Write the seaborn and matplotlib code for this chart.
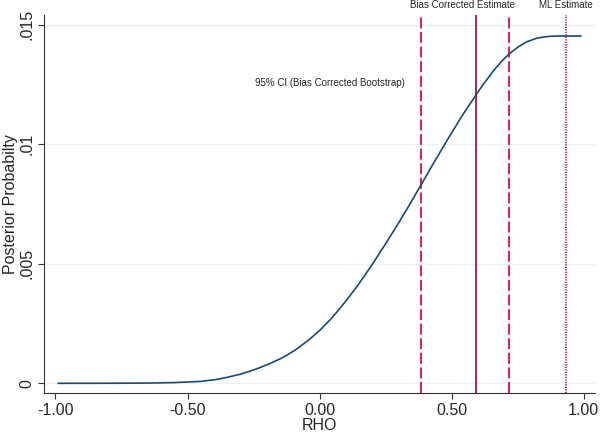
# Import necessary libraries
import numpy as np
import pandas as pd
import matplotlib
matplotlib.use('Agg')
import matplotlib.pyplot as plt
import seaborn as sns

# Posterior curve
rho = [-0.99, -0.80, -0.65, -0.55, -0.45, -0.39, -0.35, -0.30, -0.26, -0.225,
       -0.19, -0.15, -0.12, -0.086, -0.04, 0.0, 0.04, 0.07, 0.10, 0.141,
       0.17, 0.201, 0.25, 0.292, 0.34, 0.383, 0.43, 0.482, 0.54, 0.592,
       0.62, 0.658, 0.69, 0.719, 0.75, 0.785, 0.82, 0.848, 0.875, 0.90,
       0.95, 0.99]
posterior = [0.0, 0.000002, 0.00001, 0.00003, 0.00008, 0.00016, 0.00025, 0.00038, 0.00052, 0.00066,
             0.00082, 0.00102, 0.00120, 0.00144, 0.00182, 0.00221, 0.00266, 0.00304, 0.00345, 0.00404,
             0.00450, 0.00500, 0.00584, 0.00658, 0.00746, 0.00828, 0.00918, 0.01015, 0.01120, 0.01206,
             0.01251, 0.01307, 0.01348, 0.01379, 0.01406, 0.01429, 0.01443, 0.01449, 0.01452, 0.01453,
             0.01453, 0.01453]

# Reference lines
ci_bounds = [0.384, 0.718]
bias_corrected = 0.592
ml_estimate = 0.932

# Tick labels
x_ticks = [-1.0, -0.5, 0.0, 0.5, 1.0]
x_tick_labels = ['-1.00', '-0.50', '0.00', '0.50', '1.00']
y_ticks = [0, 0.005, 0.01, 0.015]
y_tick_labels = ['0', '.005', '.01', '.015']

df = pd.DataFrame({'RHO': rho, 'Posterior': posterior})

# Style
sns.set_style('white')
plt.rcParams['font.family'] = ['Liberation Sans', 'DejaVu Sans']

fig = plt.figure(figsize=(6, 4.36), dpi=100)
ax = fig.add_axes([0.0733, 0.0986, 0.9184, 0.867])

# Horizontal gridlines (Stata look)
for yv in y_ticks:
    ax.axhline(yv, color='#eaf2f3', linewidth=1.0, zorder=0)

# Posterior curve
sns.lineplot(data=df, x='RHO', y='Posterior', ax=ax, color='#1a4a72', linewidth=1.2, zorder=3)

# Vertical lines
for b in ci_bounds:
    ax.axvline(b, color='#d42a5c', linewidth=1.5, dashes=(5.3, 1.7), zorder=2)
ax.axvline(bias_corrected, color='#a3285c', linewidth=1.4, zorder=2)
ax.axvline(ml_estimate, color='#b33a66', linewidth=1.5, linestyle=(0, (0.6, 0.6)), zorder=2)

# Axis limits
ax.set_xlim(-1.0436, 1.043)
ax.set_ylim(-0.000406, 0.01541)

# Annotations
ax.text(0.542, 1.012, 'Bias Corrected Estimate', transform=ax.get_xaxis_transform(),
        ha='center', va='bottom', fontsize=7)
ax.text(ml_estimate, 1.012, 'ML Estimate', transform=ax.get_xaxis_transform(),
        ha='center', va='bottom', fontsize=7)
ax.text(0.3236, 0.01258, '95% CI (Bias Corrected Bootstrap)', ha='right', va='center', fontsize=7)

# Ticks and labels
ax.set_xticks(x_ticks)
ax.set_xticklabels(x_tick_labels, fontsize=11.5)
ax.set_yticks(y_ticks)
ax.set_yticklabels(y_tick_labels, fontsize=11.5, rotation=90, va='center')
ax.tick_params(axis='both', direction='out', length=4.5, width=0.8, color='#333333', pad=2.5,
               left=True, bottom=True)
ax.set_xlabel('RHO', fontsize=11.5, labelpad=0)
ax.set_ylabel('Posterior Probabilty', fontsize=11.5)
ax.yaxis.set_label_coords(-0.048, 0.5)

# Only left and bottom spines
for side in ['top', 'right']:
    ax.spines[side].set_visible(False)
for side in ['left', 'bottom']:
    ax.spines[side].set_color('#333333')
    ax.spines[side].set_linewidth(0.8)

plt.savefig('out.png', dpi=100)
